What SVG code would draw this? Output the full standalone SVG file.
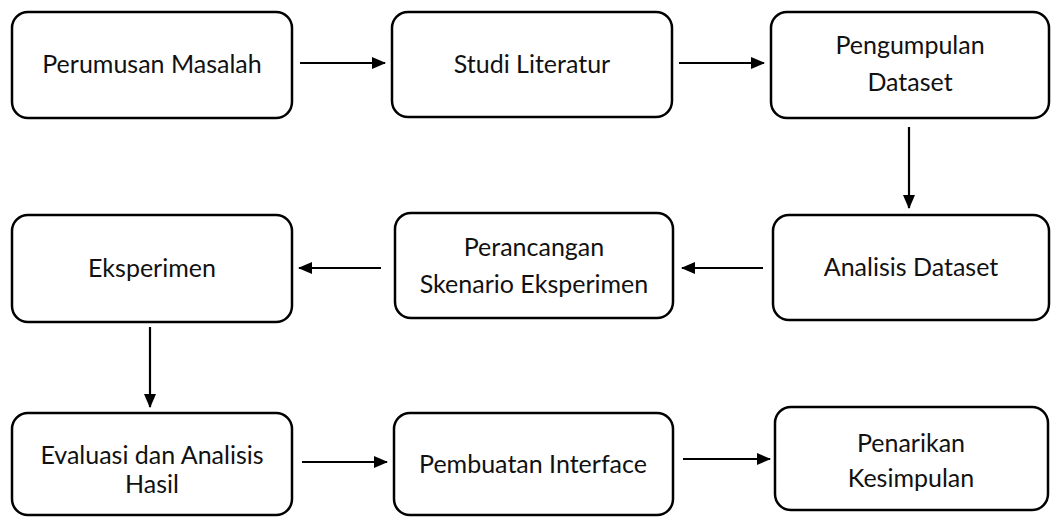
<svg xmlns="http://www.w3.org/2000/svg" width="1051" height="517" viewBox="0 0 1051 517">
<style>
.box{fill:#fff;stroke:#000;stroke-width:2.5}
.t{font-family:Lato,"Open Sans","Liberation Sans",sans-serif;font-size:25px;fill:#111;text-anchor:middle}
.c{stroke:#000;stroke-width:2.2;fill:none;marker-end:url(#ah)}
</style>
<defs>
<marker id="ah" markerUnits="userSpaceOnUse" markerWidth="14" markerHeight="12" refX="13" refY="6" orient="auto">
<path d="M0,0 L14,6 L0,12 Z" fill="#000"/>
</marker>
</defs>
<rect width="1051" height="517" fill="#fff"/>
<g id="n1"><rect class="box" x="12" y="12" width="280" height="106" rx="16"/><text class="t" x="152" y="73">Perumusan Masalah</text></g>
<g id="n2"><rect class="box" x="392" y="12" width="280" height="105" rx="16"/><text class="t" x="532" y="73">Studi Literatur</text></g>
<g id="n3"><rect class="box" x="771" y="12" width="278" height="106" rx="16"/><text class="t" x="910" y="54">Pengumpulan</text><text class="t" x="910" y="91">Dataset</text></g>
<g id="n4"><rect class="box" x="773" y="215" width="276" height="105" rx="16"/><text class="t" x="911" y="276">Analisis Dataset</text></g>
<g id="n5"><rect class="box" x="395" y="213" width="278" height="105" rx="16"/><text class="t" x="534" y="256">Perancangan</text><text class="t" x="534" y="293">Skenario Eksperimen</text></g>
<g id="n6"><rect class="box" x="12" y="215" width="280" height="107" rx="16"/><text class="t" x="152" y="277">Eksperimen</text></g>
<g id="n7"><rect class="box" x="12" y="413" width="280" height="102" rx="16"/><text class="t" x="152" y="464">Evaluasi dan Analisis</text><text class="t" x="152" y="493">Hasil</text></g>
<g id="n8"><rect class="box" x="394" y="413" width="279" height="102" rx="16"/><text class="t" x="533" y="473">Pembuatan Interface</text></g>
<g id="n9"><rect class="box" x="775" y="407" width="273" height="103" rx="16"/><text class="t" x="911" y="452">Penarikan</text><text class="t" x="911" y="487">Kesimpulan</text></g>
<g id="connectors">
<line class="c" x1="300" y1="63" x2="385" y2="63"/>
<line class="c" x1="679" y1="63" x2="764" y2="63"/>
<line class="c" x1="909" y1="127" x2="909" y2="208"/>
<line class="c" x1="763" y1="268" x2="682" y2="268"/>
<line class="c" x1="381" y1="268" x2="299" y2="268"/>
<line class="c" x1="150" y1="327" x2="150" y2="407"/>
<line class="c" x1="302" y1="462" x2="387" y2="462"/>
<line class="c" x1="683" y1="459" x2="770" y2="459"/>
</g>
</svg>
